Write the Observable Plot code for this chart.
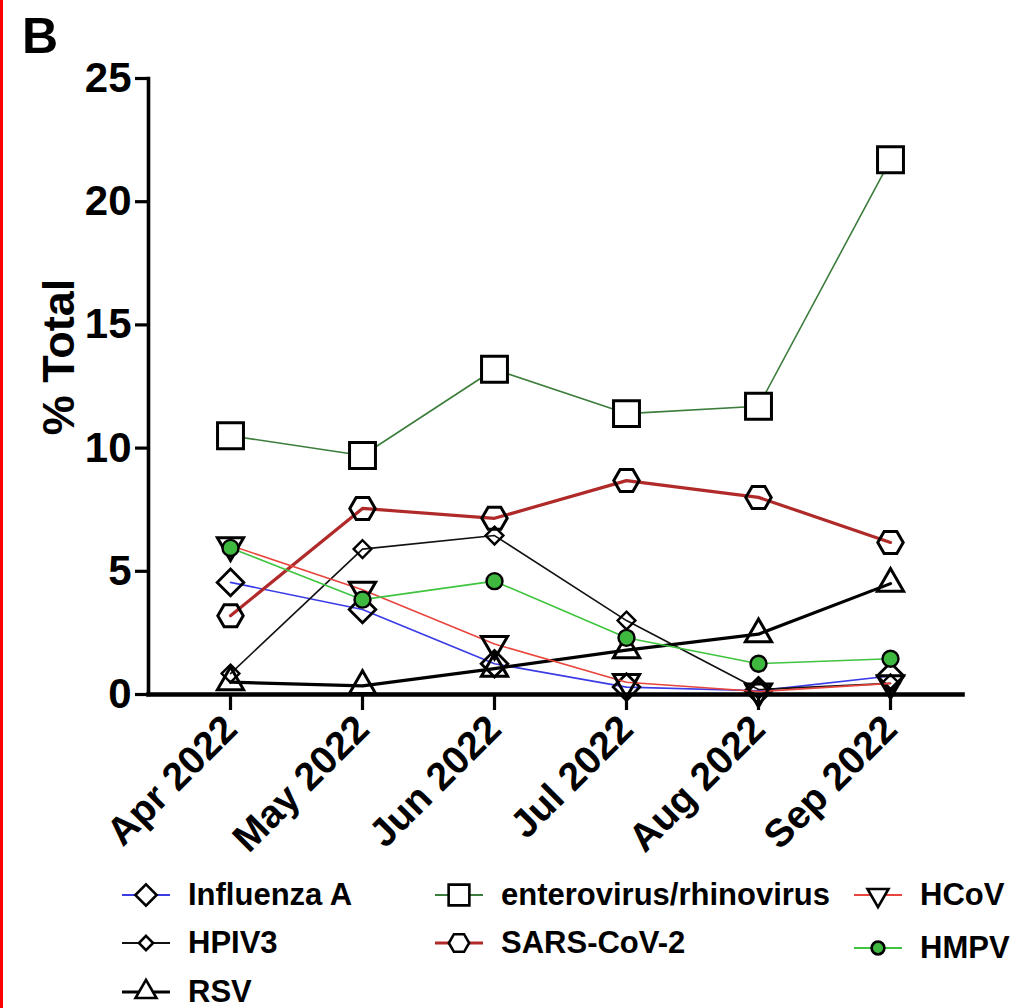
<!DOCTYPE html>
<html>
<head>
<meta charset="utf-8">
<script src="https://cdn.jsdelivr.net/npm/d3@7"></script>
<script src="https://cdn.jsdelivr.net/npm/@observablehq/plot@0.6"></script>
<style>
  html, body { margin: 0; padding: 0; background: #fff; }
  body { font-family: "Liberation Sans", Arial, Helvetica, sans-serif; }
  #wrap { position: relative; width: 1025px; height: 1008px; overflow: hidden; background: #fff; }
  #edge { position: absolute; left: 0; top: 0; width: 3px; height: 1008px; background: #ff0000; }
  #panel { position: absolute; left: 22px; top: 11px; font-size: 50px; font-weight: bold; line-height: 1; }
  #chart { position: absolute; left: 0; top: 0; }
  #ylabel { position: absolute; left: 58px; top: 357px; transform: translate(-50%, -50%) rotate(-90deg);
            font-size: 45px; font-weight: bold; white-space: nowrap; line-height: 1; }
  .leg { position: absolute; display: flex; align-items: center; font-size: 31px; font-weight: bold; white-space: nowrap; }
  .leg svg { display: block; margin-right: 14px; }
</style>
</head>
<body>
<div id="wrap">
  <div id="edge"></div>
  <div id="panel">B</div>
  <div id="chart"></div>
  <div id="ylabel">% Total</div>
  <div id="legend"></div>
</div>
<script>
// ---- data ----
const months = ["Apr 2022", "May 2022", "Jun 2022", "Jul 2022", "Aug 2022", "Sep 2022"];
const seriesNames = ["Influenza A", "HPIV3", "RSV", "enterovirus/rhinovirus", "SARS-CoV-2", "HCoV", "HMPV"];
const influenzaA = [4.55, 3.45, 1.25, 0.3, 0.15, 0.75];
const hpiv3      = [0.85, 5.9, 6.45, 3.0, 0.2, 0.45];
const rsv        = [0.5, 0.35, 1.05, 1.8, 2.45, 4.5];
const enteroRhino= [10.5, 9.7, 13.2, 11.4, 11.7, 21.7];
const sarsCoV2   = [3.2, 7.55, 7.15, 8.68, 8.0, 6.17];
const hcov       = [6.05, 4.25, 2.05, 0.5, 0.12, 0.45];
const hmpv       = [5.95, 3.85, 4.6, 2.3, 1.25, 1.45];
const yTicks = [0, 5, 10, 15, 20, 25];

const valuesBySeries = {
  "Influenza A": influenzaA,
  "HPIV3": hpiv3,
  "RSV": rsv,
  "enterovirus/rhinovirus": enteroRhino,
  "SARS-CoV-2": sarsCoV2,
  "HCoV": hcov,
  "HMPV": hmpv
};

// ---- styles ----
const styles = {
  "Influenza A":            {line: "#3a3ae6", lw: 1.6, symbol: "diamond2", r: 12,  fill: "none",  rotate: 0,   sw: 2.8},
  "HPIV3":                  {line: "#111111", lw: 1.6, symbol: "diamond2", r: 8,   fill: "none",  rotate: 0,   sw: 2.4},
  "RSV":                    {line: "#000000", lw: 3.2, symbol: "triangle2", r: 12.5, fill: "none", rotate: 0,  sw: 3},
  "enterovirus/rhinovirus": {line: "#3c7d3c", lw: 1.6, symbol: "square2",  r: 16.5, fill: "white", rotate: 0,  sw: 3},
  "SARS-CoV-2":             {line: "#b02a2a", lw: 3.2, symbol: "hexagon",  r: 11,  fill: "none",  rotate: 90,  sw: 3},
  "HCoV":                   {line: "#e8453c", lw: 1.6, symbol: "triangle2", r: 12.5, fill: "none", rotate: 180, sw: 3},
  "HMPV":                   {line: "#3fc43f", lw: 1.6, symbol: "circle",   r: 8,   fill: "#3fb83f", rotate: 0, sw: 2.4}
};

const rows = [];
for (const s of seriesNames) {
  valuesBySeries[s].forEach((v, i) => rows.push({series: s, month: months[i], value: v}));
}

const FONT = "'Liberation Sans', Arial, Helvetica, sans-serif";
const marks = [];
for (const s of seriesNames) {
  const st = styles[s];
  const d = rows.filter(r => r.series === s);
  marks.push(Plot.line(d, {x: "month", y: "value", stroke: st.line, strokeWidth: st.lw}));
  marks.push(Plot.dot(d, {x: "month", y: "value", symbol: st.symbol, r: st.r, stroke: "black",
                          strokeWidth: st.sw, fill: st.fill, rotate: st.rotate}));
}

const chart = Plot.plot({
  width: 1025,
  height: 860,
  marginLeft: 148,
  marginRight: 63,
  marginTop: 78,
  marginBottom: 166,
  style: {fontFamily: FONT, background: "transparent", overflow: "visible"},
  x: {type: "point", domain: months, range: [229, 891], padding: 0},
  y: {domain: [0, 25]},
  marks: [
    Plot.axisY({ticks: yTicks, tickSize: 13, tickPadding: 4, fontSize: 42, fontWeight: "bold",
                strokeWidth: 3.2, label: null}),
    Plot.axisX({tickSize: 16, tickPadding: 12, tickRotate: -45, fontSize: 39, fontWeight: "bold",
                strokeWidth: 3.2, label: null}),
    Plot.frame({anchor: "left", strokeWidth: 3.6}),
    Plot.frame({anchor: "bottom", strokeWidth: 4.6}),
    ...marks
  ]
});
document.getElementById("chart").appendChild(chart);

// ---- legend (HTML) ----
const legendLayout = [
  {name: "Influenza A", left: 118, top: 895},
  {name: "HPIV3", left: 118, top: 943},
  {name: "RSV", left: 118, top: 992},
  {name: "enterovirus/rhinovirus", left: 431, top: 895},
  {name: "SARS-CoV-2", left: 431, top: 943},
  {name: "HCoV", left: 850, top: 895},
  {name: "HMPV", left: 850, top: 948}
];
const legendSymbolScale = 0.8;
const symMap = {
  diamond2: d3.symbolDiamond2, triangle2: d3.symbolTriangle2, square2: d3.symbolSquare2, circle: d3.symbolCircle,
  hexagon: {draw(ctx, size) {
    const rx = Math.sqrt(size / Math.PI), ry = rx * 2 / Math.sqrt(3), hy = ry / 2;
    ctx.moveTo(0, ry); ctx.lineTo(rx, hy); ctx.lineTo(rx, -hy); ctx.lineTo(0, -ry);
    ctx.lineTo(-rx, -hy); ctx.lineTo(-rx, hy); ctx.closePath();
  }}
};
const legend = document.getElementById("legend");
for (const item of legendLayout) {
  const st = styles[item.name];
  const div = document.createElement("div");
  div.className = "leg";
  div.style.left = item.left + "px";
  div.style.top = (item.top - 22) + "px";
  div.style.height = "44px";
  const w = 56, h = 44;
  const svg = d3.create("svg").attr("width", w).attr("height", h);
  svg.append("line").attr("x1", 4).attr("x2", w - 4).attr("y1", h / 2).attr("y2", h / 2)
     .attr("stroke", st.line).attr("stroke-width", Math.max(st.lw, 2));
  const rr = st.r * legendSymbolScale;
  svg.append("path")
     .attr("d", d3.symbol(symMap[st.symbol], Math.PI * rr * rr)())
     .attr("transform", `translate(${w / 2},${h / 2}) rotate(${st.rotate})`)
     .attr("fill", st.fill === "none" ? "white" : st.fill)
     .attr("stroke", "black").attr("stroke-width", 2.6);
  div.appendChild(svg.node());
  const span = document.createElement("span");
  span.textContent = item.name;
  div.appendChild(span);
  legend.appendChild(div);
}
</script>
</body>
</html>
